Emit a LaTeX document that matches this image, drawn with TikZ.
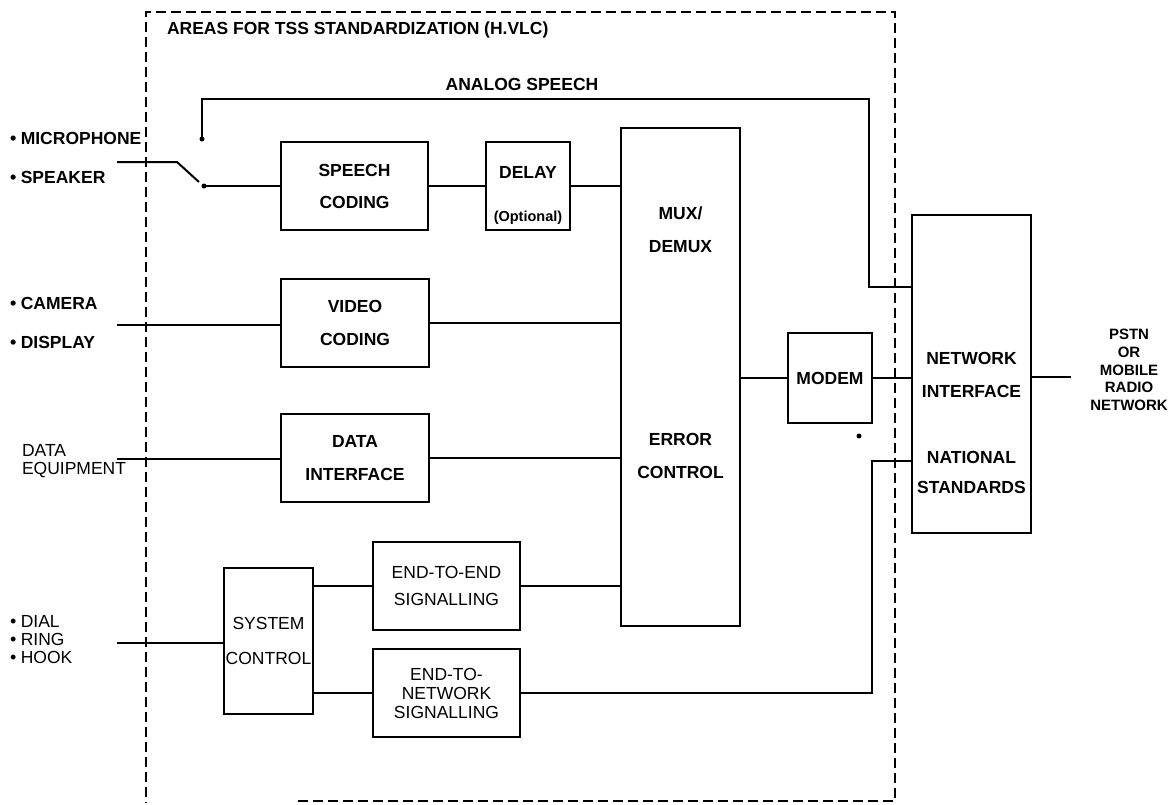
\documentclass[tikz,border=0pt]{standalone}
\usepackage{fontspec}
\setmainfont{Liberation Sans}
\usetikzlibrary{calc}

% small bullet in front of the terminal labels
\newcommand{\bul}{\smash{\fontsize{18}{18}\selectfont •}\hspace{4.5pt}}

\begin{document}
\begin{tikzpicture}[
    x=1pt, y=-1pt,
    line width=2pt,
    blk/.style={draw, line width=2pt, inner sep=0pt, align=center},
    lbl/.style={inner sep=0pt, align=center, font=\bfseries\fontsize{17.5}{#1}\selectfont},
    lbl/.default=33,
    lbln/.style={inner sep=0pt, align=center, font=\fontsize{17.5}{#1}\selectfont},
    lbln/.default=33,
    frm/.style={dash pattern=on 10pt off 5pt, line width=1.5pt}
]
\useasboundingbox (0,0) rectangle (1172,804);

% TSS area (dashed frame)
\draw[frm] (298,801) -- (895,801) -- (895,12) -- (146,12) -- (146,803);
\node[lbl, anchor=west] (title) at (166,30) {AREAS FOR TSS STANDARDIZATION (H.VLC)};

% Terminal side labels
\node[lbl, anchor=west] (mic) at (9,138) {\bul MICROPHONE};
\node[lbl, anchor=west] (spk) at (9,177) {\bul SPEAKER};
\node[lbl, anchor=west] (cam) at (9,303) {\bul CAMERA};
\node[lbl, anchor=west] (disp) at (9,342) {\bul DISPLAY};
\node[lbln=18, anchor=west, align=left] (dte) at (21,461) {DATA\\EQUIPMENT};
\node[lbln=18, anchor=west, align=left] (dial) at (9,639.5) {\bul DIAL\\\bul RING\\\bul HOOK};

% Coding blocks
\node[blk, lbl=32, minimum width=147pt, minimum height=88pt] (speech) at (354.5,186) {SPEECH\\CODING};
\node[blk, minimum width=84pt, minimum height=88pt] (delay) at (528,186) {};
\node[lbl=43] (delayt) at (528,195) {DELAY\\{\fontsize{14.5}{17}\selectfont (Optional)}};
\node[blk, lbl=33, minimum width=148pt, minimum height=88pt] (video) at (355,323) {VIDEO\\CODING};
\node[blk, lbl=33, minimum width=148pt, minimum height=88pt] (data) at (355,458) {DATA\\INTERFACE};

% Control blocks
\node[blk, lbln=35, minimum width=89pt, minimum height=146pt] (sysctl) at (268.5,641) {SYSTEM\\CONTROL};
\node[blk, lbln=27, minimum width=147pt, minimum height=88pt] (e2e) at (446.5,586) {END-TO-END\\SIGNALLING};
\node[blk, lbln=19, minimum width=147pt, minimum height=88pt] (e2n) at (446.5,693) {END-TO-\\NETWORK\\SIGNALLING};

% Mux, modem and network interface
\node[blk, minimum width=119pt, minimum height=498pt] (mux) at (680.5,377) {};
\node[lbl] (muxt) at (680.5,229.5) {MUX/\\DEMUX};
\node[lbl] (errt) at (680.5,455.5) {ERROR\\CONTROL};
\node[blk, lbl, minimum width=84pt, minimum height=90pt] (modem) at (830,378) {MODEM};
\node[blk, minimum width=119pt, minimum height=318pt] (net) at (971.5,374) {};
\node[lbl] (nett) at (971.5,374.5) {NETWORK\\INTERFACE};
\node[lbl=30] (natt) at (971.5,472) {NATIONAL\\STANDARDS};
\fill (859,436) circle (2.5pt);

\node[inner sep=0pt, align=center, font=\bfseries\fontsize{15}{17.8}\selectfont] (pstnt) at (1129,370)
    {PSTN\\OR\\MOBILE\\RADIO\\NETWORK};

% Speech switch
\coordinate (micin) at (117,162);
\coordinate (pivot) at (177,162);
\coordinate (blade) at (199,182);
\coordinate (ana) at (202,139);
\coordinate (dig) at (204,186);
\draw (micin) -- (pivot) -- (blade);
\fill (ana) circle (2.5pt);
\fill (dig) circle (2.5pt);

% Analog speech bypass
\coordinate (atop) at (869,99);
\draw (ana) |- (atop) |- ($(net.north west)+(0,73)$);
\node[lbl] (analog) at (522,84) {ANALOG SPEECH};

% Signal paths
\draw (dig) -- (speech.west);
\draw (speech) -- (delay);
\draw (delay.east) -- (delay.east -| mux.west);

\coordinate (vidin) at (117,325);
\draw (vidin) -- (vidin -| video.west);
\draw (video.east) -- (video.east -| mux.west);

\coordinate (datin) at (117,459);
\draw (datin) -- (datin -| data.west);
\draw (data.east) -- (data.east -| mux.west);

\coordinate (ctlin) at (117,643);
\draw (ctlin) -- (ctlin -| sysctl.west);
\draw (sysctl.east |- e2e.west) -- (e2e.west);
\draw (sysctl.east |- e2n.west) -- (e2n.west);
\draw (e2e.east) -- (e2e.east -| mux.west);

\draw (mux.east |- modem.west) -- (modem.west);
\draw (modem.east) -- (modem.east -| net.west);

\coordinate (ret) at (872,461);
\draw (e2n.east) -| (ret) -- (ret -| net.west);

\coordinate (pstn) at (1071,377);
\draw (net.east |- pstn) -- (pstn);

\end{tikzpicture}
\end{document}
